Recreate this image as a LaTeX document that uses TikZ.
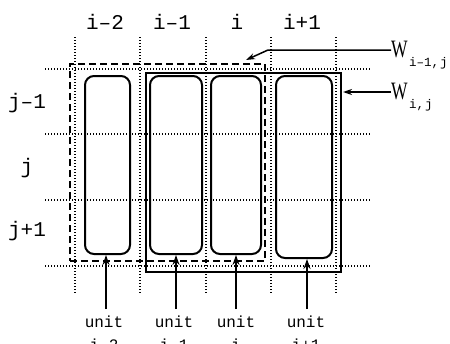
\documentclass[tikz,border=0pt]{standalone}
\usepackage{fontspec}
\setmainfont{Liberation Mono}
\newfontfamily\wfont{Liberation Serif}
\usetikzlibrary{arrows.meta}
\begin{document}
\begin{tikzpicture}[x=1pt,y=-1pt,
 gridline/.style={line width=1.1pt, dash pattern=on 1.1pt off 1.9pt},
 unitbox/.style={draw, line width=2pt, rounded corners=9pt, inner sep=0pt},
 dashbox/.style={draw, line width=2pt, dash pattern=on 7pt off 4pt, inner sep=0pt},
 solidbox/.style={draw, line width=2pt, inner sep=0pt},
 arr/.style={line width=2pt, -{Stealth[length=10pt,width=7pt]}},
 warr/.style={line width=1.5pt, -{Stealth[length=9pt,width=6pt]}},
 lab/.style={font=\fontsize{21}{21}\selectfont, inner sep=0pt},
 wlab/.style={font=\wfont\fontsize{25}{25}\selectfont, inner sep=0pt, anchor=west},
 sublab/.style={font=\fontsize{12.5}{12.5}\selectfont, inner sep=0pt, anchor=base west},
 unitlab/.style={font=\fontsize{16}{23}\selectfont, align=center, inner sep=0pt, anchor=north},
]
\useasboundingbox (0,0) rectangle (450,343);
\clip (0,0) rectangle (450,343);
% dotted grid
\foreach \x in {75,140,206,271,336} \draw[gridline] (\x,37) -- (\x,293);
\foreach \y in {69,134,200,266} \draw[gridline] (45,\y) -- (370,\y);
% windows
\node[dashbox, minimum width=195pt, minimum height=197pt] (dash) at (167.5,162.5) {};
\node[solidbox, minimum width=195pt, minimum height=199pt] (solid) at (243.5,172.5) {};
% units
\node[unitbox, minimum width=45pt, minimum height=178pt] (u1) at (107.5,165) {};
\node[unitbox, minimum width=52pt, minimum height=178pt] (u2) at (176,165) {};
\node[unitbox, minimum width=50pt, minimum height=178pt] (u3) at (236,165) {};
\node[unitbox, minimum width=56pt, minimum height=182pt] (u4) at (304,167) {};
% column labels
\node[lab] (c1) at (105,22) {i–2};
\node[lab] (c2) at (172,22) {i–1};
\node[lab] (c3) at (237,22) {i};
\node[lab] (c4) at (302,22) {i+1};
% row labels
\node[lab] (r1) at (27,103) {j–1};
\node[lab] (r2) at (27,168) {j};
\node[lab] (r3) at (27,231) {j+1};
% window labels
\node[wlab] (wa) at (391,50) {\scalebox{0.7}[1]{W}};
\node[sublab] (wasub) at ([xshift=1pt,yshift=-9pt]wa.base east) {i–1,\kern1pt j};
\node[wlab] (wb) at (391,92) {\scalebox{0.7}[1]{W}};
\node[sublab] (wbsub) at ([xshift=1pt,yshift=-9pt]wb.base east) {i,\kern1pt j};
\coordinate (benda) at (268,50);
\coordinate (tipa) at (246,60);
\draw[warr] (wa.west) -- (benda) -- (tipa);
\draw[warr] (wb.west) -- ([xshift=1pt]solid.east |- wb.west);
% unit inputs
\node[unitlab] (ul1) at (104,316) {unit\\i–2};
\node[unitlab] (ul2) at (174,316) {unit\\i–1};
\node[unitlab] (ul3) at (236,316) {unit\\i};
\node[unitlab] (ul4) at (306,316) {unit\\i+1};
\coordinate (a1) at (106,309);
\coordinate (a2) at (176,309);
\coordinate (a3) at (236,309);
\coordinate (a4) at (307,309);
\draw[arr] (a1) -- (a1 |- u1.south);
\draw[arr] (a2) -- (a2 |- u2.south);
\draw[arr] (a3) -- (a3 |- u3.south);
\draw[arr] (a4) -- (a4 |- u4.south);
\end{tikzpicture}
\end{document}
